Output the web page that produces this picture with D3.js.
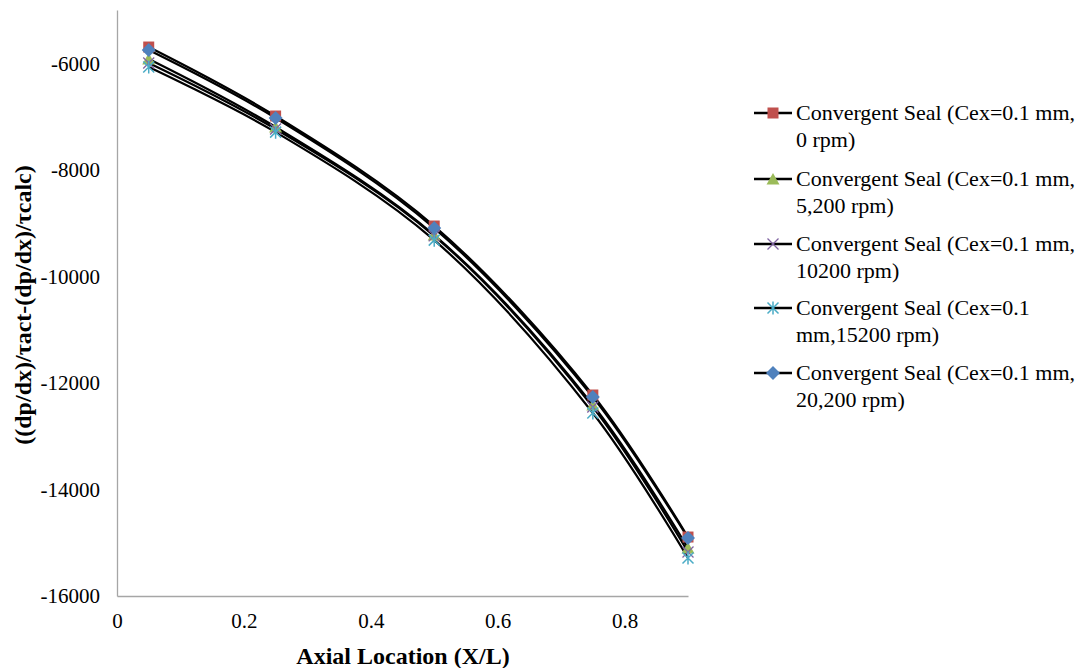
<!DOCTYPE html>
<html>
<head>
<meta charset="utf-8">
<script src="https://cdn.jsdelivr.net/npm/d3@7"></script>
<style>
  body { margin: 0; background: #fff; }
</style>
</head>
<body>
<div id="chart"></div>
<script>
const FONT = "'Liberation Serif', 'Times New Roman', serif";

const xValues = [0.05, 0.25, 0.5, 0.75, 0.9];

const seriesNames = [
	['Convergent Seal (Cex=0.1 mm,', '0 rpm)'],
	['Convergent Seal (Cex=0.1 mm,', '5,200 rpm)'],
	['Convergent Seal (Cex=0.1 mm,', '10200 rpm)'],
	['Convergent Seal (Cex=0.1', 'mm,15200 rpm)'],
	['Convergent Seal (Cex=0.1 mm,', '20,200 rpm)'],
];

const rpm0 = [-5695, -6990, -9055, -12227, -14893];
const rpm5200 = [-5920, -7197, -9225, -12415, -15100];
const rpm10200 = [-5995, -7235, -9240, -12452, -15174];
const rpm15200 = [-6070, -7293, -9320, -12565, -15287];
const rpm20200 = [-5752, -7028, -9093, -12265, -14911];

const seriesValues = [rpm0, rpm5200, rpm10200, rpm15200, rpm20200];
const markerTypes = ['square', 'triangle', 'x', 'star', 'diamond'];
const markerColors = ['#C0504D', '#9BBB59', '#8064A2', '#4BACC6', '#4F81BD'];

const xTicks = [0, 0.2, 0.4, 0.6, 0.8];
const yTicks = [-6000, -8000, -10000, -12000, -14000, -16000];

const width = 1081, height = 668;
const plot = { left: 117, right: 688, top: 10, bottom: 596 };

const svg = d3.select('#chart').append('svg')
	.attr('width', width)
	.attr('height', height)
	.attr('font-family', FONT);

const x = d3.scaleLinear().domain([0, 0.9]).range([plot.left, plot.right]);
const y = d3.scaleLinear().domain([-16000, -5000]).range([plot.bottom, plot.top]);

// axes
const yAxis = svg.append('g')
	.attr('transform', `translate(${plot.left},0)`)
	.call(d3.axisLeft(y).tickValues(yTicks).tickSize(0).tickPadding(17));
const xAxis = svg.append('g')
	.attr('transform', `translate(0,${plot.bottom})`)
	.call(d3.axisBottom(x).tickValues(xTicks).tickSize(0).tickPadding(17)
		.tickFormat(d => d === 0 ? '0' : d3.format('.1f')(d)));

[xAxis, yAxis].forEach(g => {
	g.attr('font-family', FONT).attr('font-size', 21);
	g.select('.domain').attr('stroke', '#a6a6a6').attr('stroke-width', 1.3);
	g.selectAll('text').attr('fill', '#000');
});
yAxis.selectAll('text').text(d => String(d));

// lines
const line = d3.line()
	.x((d, i) => x(xValues[i]))
	.y(d => y(d))
	.curve(d3.curveCatmullRom.alpha(0.5));

const marker = (g, type, color) => {
	switch (type) {
		case 'square':
			g.append('rect').attr('x', -5.5).attr('y', -5.5).attr('width', 11).attr('height', 11).attr('fill', color);
			break;
		case 'triangle':
			g.append('path').attr('d', 'M0,-6L6.5,5.5L-6.5,5.5Z').attr('fill', color);
			break;
		case 'diamond':
			g.append('path').attr('d', 'M0,-7L7,0L0,7L-7,0Z').attr('fill', color);
			break;
		case 'x':
			g.append('path').attr('d', 'M-5.5,-5.5L5.5,5.5M-5.5,5.5L5.5,-5.5').attr('stroke', color).attr('stroke-width', 1.3);
			break;
		case 'star':
			g.append('path').attr('d', 'M-5.5,-5.5L5.5,5.5M-5.5,5.5L5.5,-5.5M0,-6.5L0,6.5').attr('stroke', color).attr('stroke-width', 1.5);
			break;
		default:
			break;
	}
};

seriesValues.forEach(vals => {
	svg.append('path')
		.attr('d', line(vals))
		.attr('fill', 'none')
		.attr('stroke', '#000')
		.attr('stroke-width', 2.2);
});

seriesValues.forEach((vals, s) => {
	vals.forEach((v, i) => {
		const g = svg.append('g').attr('transform', `translate(${x(xValues[i])},${y(v)})`);
		marker(g, markerTypes[s], markerColors[s]);
	});
});

// legend
const legendTop = [113, 179, 244, 308, 373];
seriesNames.forEach((name, s) => {
	const g = svg.append('g').attr('transform', `translate(754,${legendTop[s]})`);
	g.append('line').attr('x1', 0).attr('x2', 38).attr('y1', 0).attr('y2', 0)
		.attr('stroke', '#000').attr('stroke-width', 2.4);
	const m = g.append('g').attr('transform', 'translate(19,0)');
	marker(m, markerTypes[s], markerColors[s]);
	const t = g.append('text')
		.attr('x', 42)
		.attr('y', 7)
		.attr('font-family', FONT)
		.attr('font-size', 22)
		.attr('fill', '#000');
	t.append('tspan').attr('x', 42).text(name[0]);
	t.append('tspan').attr('x', 42).attr('dy', 27).text(name[1]);
});

// axis titles
svg.append('text')
	.attr('x', 403)
	.attr('y', 664)
	.attr('text-anchor', 'middle')
	.attr('font-family', FONT)
	.attr('font-size', 24)
	.attr('font-weight', 'bold')
	.text('Axial Location (X/L)');

svg.append('text')
	.attr('transform', 'translate(31,305) rotate(-90)')
	.attr('text-anchor', 'middle')
	.attr('font-family', FONT)
	.attr('font-size', 24)
	.attr('font-weight', 'bold')
	.text('((dp/dx)/τact-(dp/dx)/τcalc)');
</script>
</body>
</html>
